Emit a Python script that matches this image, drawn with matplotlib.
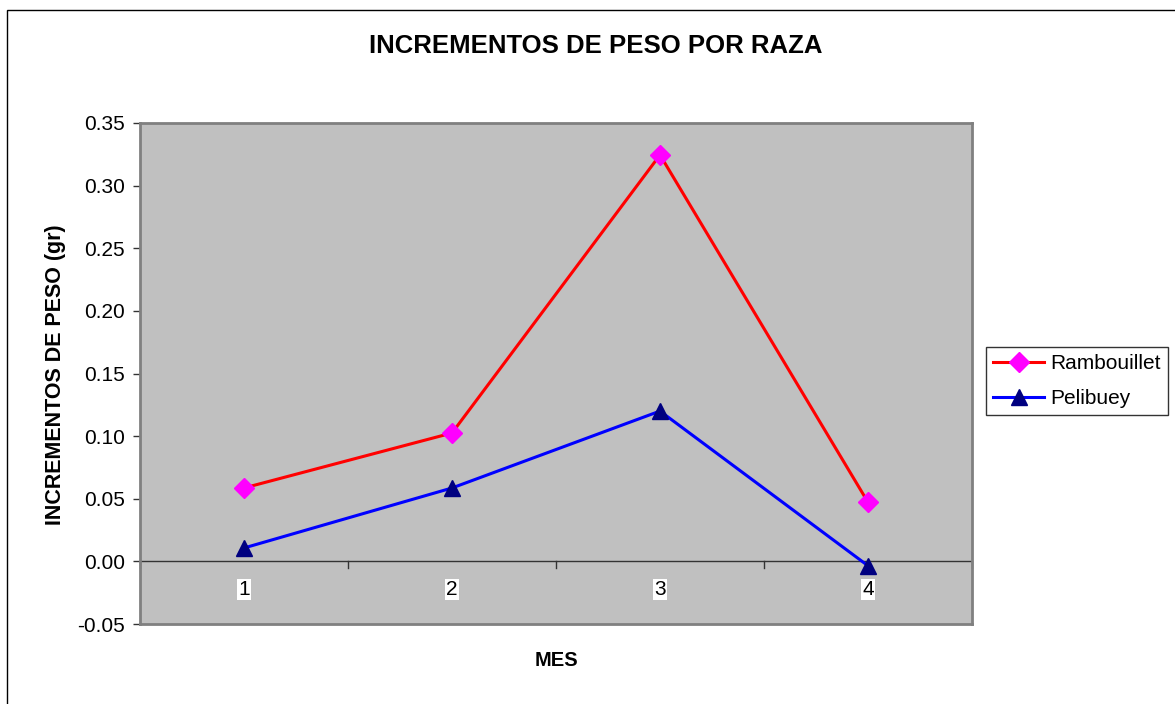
import matplotlib; matplotlib.use("Agg")
import matplotlib.pyplot as plt
from matplotlib.patches import Rectangle

plt.rcParams['font.family'] = ['Liberation Sans', 'DejaVu Sans']

meses = [1, 2, 3, 4]
mes_labels = ["1", "2", "3", "4"]
rambouillet = [0.0586, 0.1025, 0.3245, 0.0472]
pelibuey = [0.0107, 0.0586, 0.1200, -0.0035]
yticks = [-0.05, 0.00, 0.05, 0.10, 0.15, 0.20, 0.25, 0.30, 0.35]

W, H = 1175, 704
fig = plt.figure(figsize=(W/100, H/100), dpi=100)
# outer chart frame (cut off at right/bottom like the source)
fig.patches.append(Rectangle((7/W, -0.05), 1.1, 1 - 10/H + 0.05, transform=fig.transFigure,
                             fill=False, ec="black", lw=1.0))

ax = fig.add_axes([140/W, 1 - 624/H, (972-140)/W, (624-123)/H])
ax.set_facecolor("#C0C0C0")
for s in ax.spines.values():
    s.set_color("#808080"); s.set_linewidth(2.0)

ax.plot(meses, rambouillet, color="#FF0000", lw=2.2, marker="D", ms=10,
        mfc="#FF00FF", mec="#FF00FF", label="Rambouillet", zorder=3)
ax.plot(meses, pelibuey, color="#0000FF", lw=2.2, marker="^", ms=11.5,
        mfc="#000080", mec="#000080", label="Pelibuey", zorder=3)

ax.set_xlim(0.5, 4.5)
ax.set_ylim(-0.05, 0.35)
ax.set_yticks(yticks)
ax.set_yticklabels([f"{v:.2f}" for v in yticks], fontsize=15)
ax.tick_params(axis="y", direction="out", length=5, width=1, color="#333333", pad=6)
ax.set_xticks([])

# category axis on the zero line
ax.axhline(0, color="#333333", lw=1.0, zorder=2)
for b in [0.5, 1.5, 2.5, 3.5, 4.5]:
    ax.plot([b, b], [0, -0.005], color="#333333", lw=1.0, clip_on=False, zorder=2)
for m, lab in zip(meses, mes_labels):
    ax.text(m, -0.0225, lab, ha="center", va="center", fontsize=15,
            bbox=dict(fc="white", ec="none", pad=0.8))

ax.set_ylabel("INCREMENTOS DE PESO (gr)", fontsize=15.5, fontweight="bold")
ax.yaxis.set_label_coords(-(140-66)/(972-140), (624-375)/(624-123))
fig.text(556/W, 1 - 661/H, "MES", ha="center", va="center", fontsize=14.5, fontweight="bold")
fig.text(596/W, 1 - 46/H, "INCREMENTOS DE PESO POR RAZA", ha="center", va="center",
         fontsize=18.5, fontweight="bold")

leg = fig.legend(loc="center left", bbox_to_anchor=(986/W, 1 - 381/H), fontsize=15,
                 frameon=True, fancybox=False, edgecolor="black", handlelength=2.45,
                 borderpad=0.35, labelspacing=0.75, handletextpad=0.3, borderaxespad=0,
                 handleheight=0.7)
leg.get_frame().set_linewidth(1.0)

fig.savefig("out.png", dpi=100)
